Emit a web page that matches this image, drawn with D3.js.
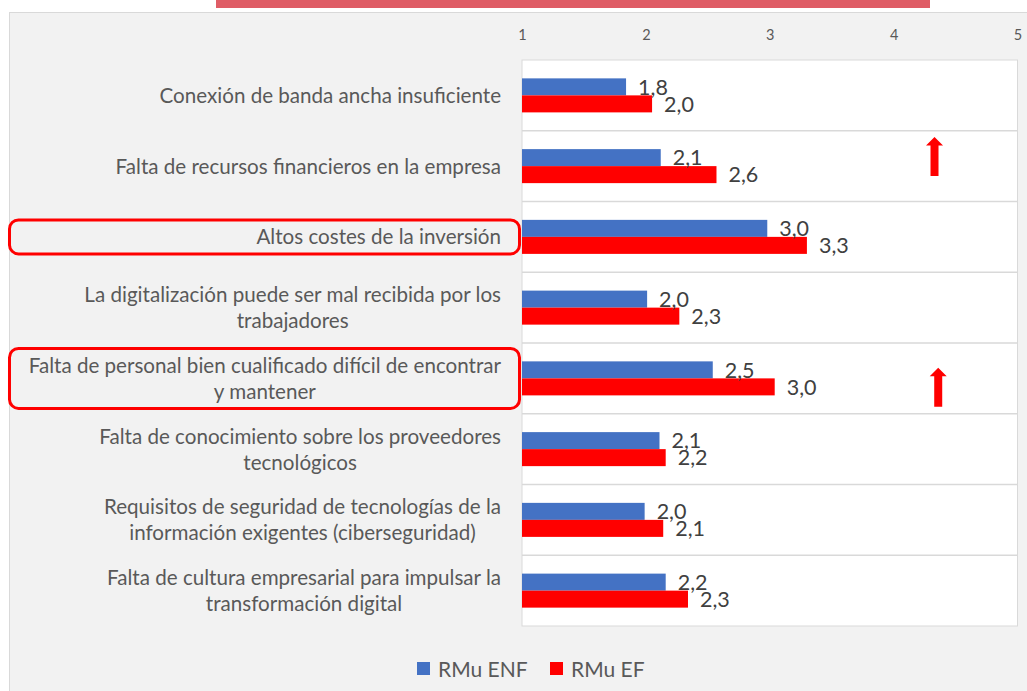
<!DOCTYPE html>
<html>
<head>
<meta charset="utf-8">
<script src="https://cdn.jsdelivr.net/npm/d3@7"></script>
<style>
	body { margin: 0; background: #fff; }
	text { font-family: Lato, "Open Sans", sans-serif; }
</style>
</head>
<body>
<div id="my_dataviz"></div>
<script>
// categories, top to bottom ("\n" = where the label wraps)
const categories = [
	"Conexión de banda ancha insuficiente",
	"Falta de recursos financieros en la empresa",
	"Altos costes de la inversión",
	"La digitalización puede ser mal recibida por los\ntrabajadores",
	"Falta de personal bien cualificado difícil de encontrar\ny mantener",
	"Falta de conocimiento sobre los proveedores\ntecnológicos",
	"Requisitos de seguridad de tecnologías de la\ninformación exigentes (ciberseguridad)",
	"Falta de cultura empresarial para impulsar la\ntransformación digital"
];
const seriesNames = ["RMu ENF", "RMu EF"];
const valuesENF = [1.84, 2.12, 2.98, 2.01, 2.54, 2.11, 1.99, 2.16];
const valuesEF = [2.05, 2.57, 3.30, 2.27, 3.04, 2.16, 2.14, 2.34];
const xTicks = [1, 2, 3, 4, 5];
// rows framed in red and rows marked with an up arrow
const framedRows = [2, 4];
const arrowRows = [1, 4];

const colors = d3.scaleOrdinal().domain(seriesNames).range(["#4472c4", "#ff0000"]);
const fmt = v => d3.format(".1f")(v).replace(".", ",");

const W = 1027, H = 691;
const svg = d3.select("#my_dataviz")
	.append("svg")
	.attr("width", W)
	.attr("height", H);

// pink strip above the panel
svg.append("rect")
	.attr("x", 216).attr("y", 0)
	.attr("width", 714).attr("height", 8)
	.attr("fill", "#df5d66");

// grey chart panel
svg.append("rect")
	.attr("x", 9.5).attr("y", 12.5)
	.attr("width", W).attr("height", H)
	.attr("fill", "#f2f2f2")
	.attr("stroke", "#d9d9d9");

// scales
const x = d3.scaleLinear().domain([1, 5]).range([522, 1017.5]);
const y = d3.scaleBand().domain(categories).range([60, 626]).paddingInner(0);
const ySub = d3.scaleBand().domain(seriesNames).range([0, y.bandwidth()]).paddingOuter(1.08);

// white plot area
svg.append("rect")
	.attr("x", x(1)).attr("y", y.range()[0])
	.attr("width", x(5) - x(1)).attr("height", y.range()[1] - y.range()[0])
	.attr("fill", "#fff")
	.attr("stroke", "#d9d9d9");

// horizontal grid lines between categories
svg.append("g")
	.selectAll("line")
	.data(categories.slice(1))
	.join("line")
	.attr("x1", x(1)).attr("x2", x(5))
	.attr("y1", d => y(d)).attr("y2", d => y(d))
	.attr("stroke", "#d9d9d9")
	.attr("stroke-width", 1.5);

// x axis on top
const xAxis = svg.append("g")
	.attr("transform", `translate(0, 60)`)
	.call(d3.axisTop(x).tickValues(xTicks).tickSize(0).tickPadding(20).tickFormat(d3.format("d")));
xAxis.select(".domain").remove();
xAxis.selectAll("text")
	.attr("fill", "#595959")
	.style("font-size", "14.5px");

// bars
const rows = categories.map((c, i) => ({ cat: c, vals: [valuesENF[i], valuesEF[i]] }));
const rowG = svg.append("g")
	.selectAll("g")
	.data(rows)
	.join("g")
	.attr("transform", d => `translate(0, ${y(d.cat)})`);

rowG.selectAll("rect")
	.data(d => d.vals.map((v, k) => ({ name: seriesNames[k], value: v })))
	.join("rect")
	.attr("x", x(1))
	.attr("y", d => ySub(d.name))
	.attr("width", d => x(d.value) - x(1))
	.attr("height", ySub.bandwidth())
	.attr("fill", d => colors(d.name));

// value labels
rowG.selectAll("text")
	.data(d => d.vals.map((v, k) => ({ name: seriesNames[k], value: v })))
	.join("text")
	.attr("x", d => x(d.value) + 12)
	.attr("y", d => ySub(d.name) + ySub.bandwidth() / 2)
	.attr("dy", "0.36em")
	.attr("fill", "#404040")
	.style("font-size", "21.5px")
	.text(d => fmt(d.value));

// category labels: wrapped lines centred on each other, block right aligned
const labelRight = 501, lineH = 26;
categories.forEach((c, i) => {
	const lines = c.split("\n");
	const cy = y(c) + y.bandwidth() / 2;
	const t = svg.append("g")
		.selectAll("text")
		.data(lines)
		.join("text")
		.attr("y", (d, j) => cy + (j - (lines.length - 1) / 2) * lineH)
		.attr("dy", "0.36em")
		.attr("text-anchor", "middle")
		.attr("fill", "#595959")
		.style("font-size", "20.6px")
		.text(d => d);
	const w = d3.max(t.nodes(), n => n.getComputedTextLength());
	t.attr("x", labelRight - w / 2);
});

// red frames around highlighted labels
svg.append("g")
	.selectAll("rect")
	.data(framedRows)
	.join("rect")
	.attr("x", 9.5)
	.attr("width", 510)
	.attr("y", i => y(categories[i]) + y.bandwidth() / 2 - (8 + categories[i].split("\n").length * lineH) / 2)
	.attr("height", i => 8 + categories[i].split("\n").length * lineH)
	.attr("rx", 9)
	.attr("fill", "none")
	.attr("stroke", "#ff0000")
	.attr("stroke-width", 3);

// up arrows
const arrowPos = [{ v: 4.33, top: 0.09 }, { v: 4.36, top: 0.35 }];
const arrow = d3.line();
svg.append("g")
	.selectAll("path")
	.data(arrowRows.map((r, k) => ({ row: r, ...arrowPos[k] })))
	.join("path")
	.attr("d", d => {
		const cx = x(d.v), t = y(categories[d.row]) + d.top * y.bandwidth();
		const h = 39, hh = 8.5, hw = 8.5, sw = 4;
		return arrow([[cx, t], [cx + hw, t + hh], [cx + sw, t + hh], [cx + sw, t + h],
			[cx - sw, t + h], [cx - sw, t + hh], [cx - hw, t + hh]]) + "Z";
	})
	.attr("fill", "#ff0000");

// legend
const legend = svg.append("g")
	.selectAll("g")
	.data(seriesNames)
	.join("g")
	.attr("transform", (d, i) => `translate(${417 + i * 133}, 662)`);
legend.append("rect")
	.attr("width", 13).attr("height", 13)
	.attr("fill", d => colors(d));
legend.append("text")
	.attr("x", 21).attr("y", 7)
	.attr("dy", "0.36em")
	.attr("fill", "#595959")
	.style("font-size", "21px")
	.text(d => d);
</script>
</body>
</html>
